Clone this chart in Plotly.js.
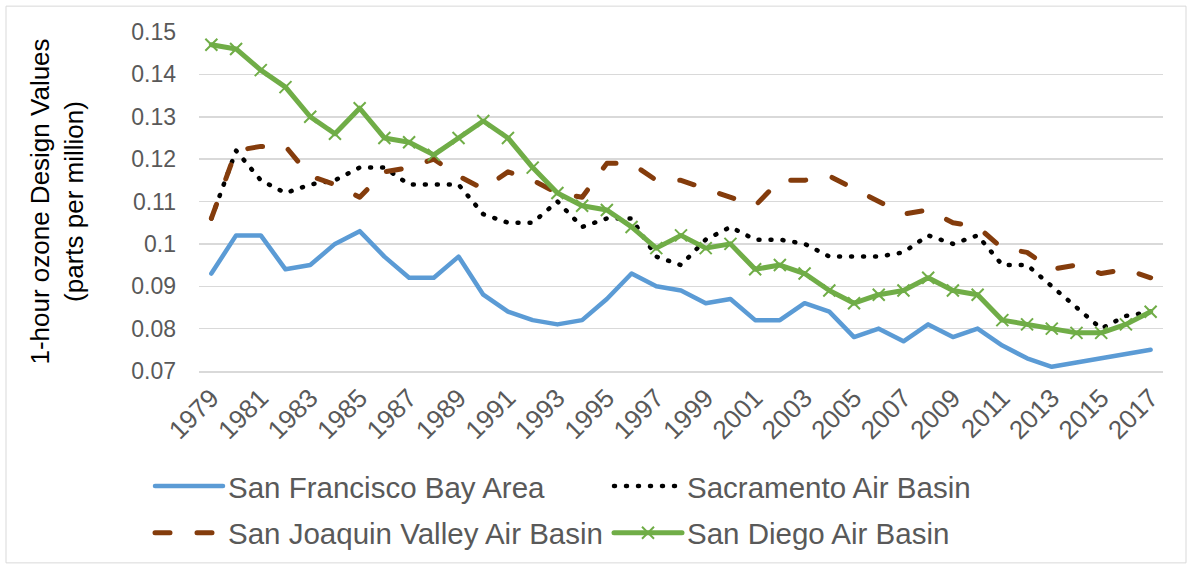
<!DOCTYPE html>
<html>
<head>
<meta charset="utf-8">
<script src="https://cdn.plot.ly/plotly-3.0.1.min.js"></script>
<style>
  html, body { margin: 0; padding: 0; background: #ffffff; }
  #chart { width: 1191px; height: 571px; }
  .js-line { stroke-linecap: round; stroke-linejoin: round; }
</style>
</head>
<body>
<div id="chart"></div>
<script>
// ---- data ----
const years = [1979,1980,1981,1982,1983,1984,1985,1986,1987,1988,1989,1990,1991,1992,1993,1994,1995,1996,1997,1998,1999,2000,2001,2002,2003,2004,2005,2006,2007,2008,2009,2010,2011,2012,2013,2014,2015,2016,2017];

const sanFranciscoBayArea = [0.093,0.102,0.102,0.094,0.095,0.100,0.103,0.097,0.092,0.092,
  0.097,0.088,0.084,0.082,0.081,0.082,0.087,0.093,0.090,0.089,
  0.086,0.087,0.082,0.082,0.086,0.084,0.078,0.080,0.077,0.081,
  0.078,0.080,0.076,0.073,0.071,0.072,0.073,0.074,0.075];

const sacramentoAirBasin = [0.106,0.122,0.115,0.112,0.114,0.115,0.118,0.118,0.114,0.114,
  0.114,0.107,0.105,0.105,0.110,0.104,0.106,0.106,0.097,0.095,
  0.101,0.104,0.101,0.101,0.100,0.097,0.097,0.097,0.098,0.102,
  0.100,0.102,0.095,0.095,0.090,0.085,0.080,0.083,0.084];

const sanJoaquinValleyAirBasin = [0.106,0.122,0.123,0.123,0.116,0.114,0.111,0.117,0.118,0.120,
  0.116,0.113,0.117,0.115,0.112,0.111,0.119,0.119,0.115,0.115,
  0.113,0.111,0.109,0.115,0.115,0.116,0.113,0.110,0.107,0.108,
  0.105,0.104,0.099,0.098,0.094,0.095,0.093,0.094,0.092];

const sanDiegoAirBasin = [0.147,0.146,0.141,0.137,0.130,0.126,0.132,0.125,0.124,0.121,
  0.125,0.129,0.125,0.118,0.112,0.109,0.108,0.104,0.099,0.102,
  0.099,0.100,0.094,0.095,0.093,0.089,0.086,0.088,0.089,0.092,
  0.089,0.088,0.082,0.081,0.080,0.079,0.079,0.081,0.084];

const seriesNames = ["San Francisco Bay Area","Sacramento Air Basin","San Joaquin Valley Air Basin","San Diego Air Basin"];

const xTickVals = [1979,1981,1983,1985,1987,1989,1991,1993,1995,1997,1999,2001,2003,2005,2007,2009,2011,2013,2015,2017];
const xTickText = ["1979","1981","1983","1985","1987","1989","1991","1993","1995","1997","1999","2001","2003","2005","2007","2009","2011","2013","2015","2017"];
const yTickVals = [0.07,0.08,0.09,0.10,0.11,0.12,0.13,0.14,0.15];
const yTickText = ["0.07","0.08","0.09","0.1","0.11","0.12","0.13","0.14","0.15"];

const yTitle = "1-hour ozone Design Values<br>(parts per million)";

// ---- traces ----
const FONT = "Liberation Sans, Arial, sans-serif";
const traces = [
  { x: years, y: sanFranciscoBayArea, name: seriesNames[0], type: "scatter", mode: "lines",
    legend: "legend",
    line: { color: "#5b9bd5", width: 4.5 } },
  { x: years, y: sacramentoAirBasin, name: seriesNames[1], type: "scatter", mode: "lines",
    legend: "legend",
    line: { color: "#000000", width: 4.5, dash: "1px,11px" } },
  { x: years, y: sanJoaquinValleyAirBasin, name: seriesNames[2], type: "scatter", mode: "lines",
    legend: "legend2",
    line: { color: "#843c0c", width: 5, dash: "15px,27px" } },
  { x: years, y: sanDiegoAirBasin, name: seriesNames[3], type: "scatter", mode: "lines+markers",
    legend: "legend2",
    line: { color: "#70ad47", width: 5 },
    marker: { symbol: "x-thin", size: 12, color: "#70ad47", line: { color: "#70ad47", width: 2 } } }
];

const L = 199, R = 28, T = 32, B = 198;
const W = 1191, H = 571;
const pw = W - L - R, ph = H - T - B;
function px2x(px) { return (px - L) / pw; }
function px2y(py) { return (H - B - py) / ph; }

function legendAt(rowY) {
  return {
    orientation: "h",
    x: px2x(150), y: px2y(rowY), xanchor: "left", yanchor: "middle",
    font: { family: FONT, size: 29.5, color: "#595959" },
    entrywidth: 376, entrywidthmode: "pixels",
    itemwidth: 68,
    bgcolor: "rgba(0,0,0,0)",
    tracegroupgap: 0
  };
}

const layout = {
  width: W, height: H,
  margin: { l: L, r: R, t: T, b: B, pad: 0 },
  paper_bgcolor: "#ffffff",
  plot_bgcolor: "#ffffff",
  font: { family: FONT, color: "#595959", size: 23 },
  showlegend: true,
  xaxis: {
    range: [1978.5, 2017.5],
    tickmode: "array", tickvals: xTickVals, ticktext: xTickText,
    tickangle: -45,
    tickfont: { family: FONT, size: 26, color: "#595959" },
    showgrid: false, zeroline: false,
    showline: true, linecolor: "#d9d9d9", linewidth: 1.5,
    ticks: "", fixedrange: true
  },
  yaxis: {
    range: [0.07, 0.15],
    tickmode: "array", tickvals: yTickVals, ticktext: yTickText,
    tickfont: { family: FONT, size: 23, color: "#595959" },
    showgrid: true, gridcolor: "#d9d9d9", gridwidth: 1.5,
    zeroline: false, showline: false, ticks: "",
    ticklabelstandoff: 22,
    title: { text: yTitle, font: { family: FONT, size: 26, color: "#000000" }, standoff: 40 },
    automargin: false, fixedrange: true
  },
  legend: legendAt(489),
  legend2: legendAt(536),
  shapes: [
    { type: "rect", xref: "paper", yref: "paper",
      x0: px2x(6), x1: px2x(1186), y0: px2y(566), y1: px2y(6),
      line: { color: "#d9d9d9", width: 1 }, fillcolor: "rgba(0,0,0,0)", layer: "below" }
  ]
};

Plotly.newPlot("chart", traces, layout, { staticPlot: true, displayModeBar: false });
</script>
</body>
</html>
